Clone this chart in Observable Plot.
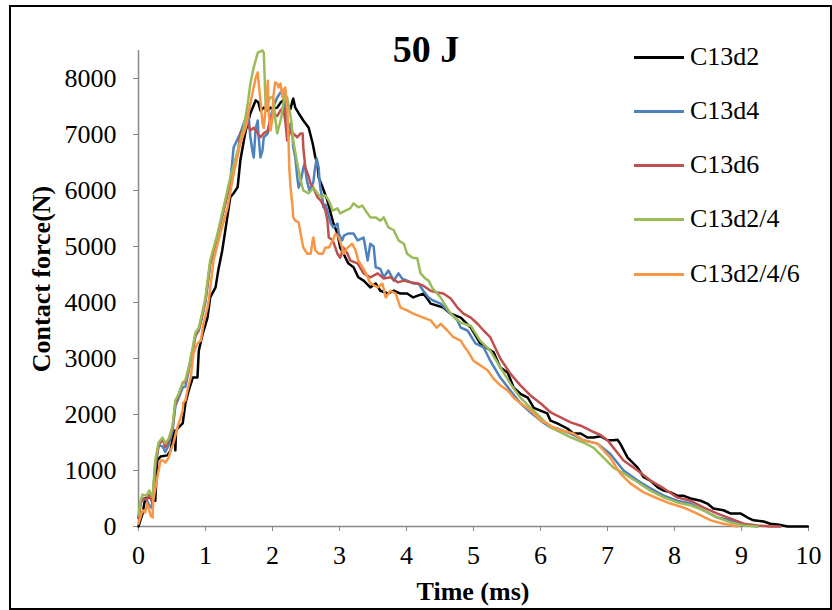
<!DOCTYPE html>
<html>
<head>
<meta charset="utf-8">
<script src="https://cdn.jsdelivr.net/npm/d3@7"></script>
<script src="https://cdn.jsdelivr.net/npm/@observablehq/plot@0.6"></script>
<style>
  html, body { margin: 0; padding: 0; background: #fff; }
  #wrap { position: relative; width: 832px; height: 610px; font-family: "Liberation Serif", "Times New Roman", serif; color: #000; }
  #wrap svg { position: absolute; left: 0; top: 0; }
  .frame { position: absolute; left: 9px; top: 5px; width: 819px; height: 601px; border: 2px solid #000; box-sizing: content-box; pointer-events: none; }
  .title { position: absolute; left: 426px; top: 62px; transform: translate(-50%, -80%); font-weight: bold; font-size: 38px; white-space: nowrap; }
  .ylab { position: absolute; left: 42px; top: 279px; transform: translate(-50%, -50%) rotate(-90deg); font-weight: bold; font-size: 26px; white-space: nowrap; }
  .xlab { position: absolute; left: 473px; top: 592px; transform: translate(-50%, -50%); font-weight: bold; font-size: 26px; white-space: nowrap; }
  .leg { position: absolute; left: 634px; display: flex; align-items: center; transform: translateY(-50%); font-size: 26px; white-space: nowrap; }
  .leg span.sw { display: inline-block; width: 50px; height: 3px; margin-right: 6px; }
</style>
</head>
<body>
<div id="wrap"></div>
<script>
// ---- data (time in ms, contact force in N) ----
const seriesNames = ["C13d2", "C13d4", "C13d6", "C13d2/4", "C13d2/4/6"];
const seriesColors = ["#000000", "#4F81BD", "#C0504D", "#9BBB59", "#F79646"];
const xTicks = [0, 1, 2, 3, 4, 5, 6, 7, 8, 9, 10];
const yTicks = [0, 1000, 2000, 3000, 4000, 5000, 6000, 7000, 8000];
const chartTitle = "50 J";
const xLabel = "Time (ms)";
const yLabel = "Contact force(N)";

const c13d2 = [[0,0],[0.06,230],[0.10,500],[0.18,520],[0.25,460],[0.28,1180],[0.33,1250],[0.43,1270],[0.48,1360],[0.51,1590],[0.54,1710],[0.55,1360],[0.56,1700],[0.58,1750],[0.66,1840],[0.70,2200],[0.75,2430],[0.81,2660],[0.88,2660],[0.90,3140],[0.96,3450],[1.03,3730],[1.07,4090],[1.15,4270],[1.19,4570],[1.25,4930],[1.31,5400],[1.37,5880],[1.42,5950],[1.48,6060],[1.52,6540],[1.60,7070],[1.67,7380],[1.75,7610],[1.79,7570],[1.82,7430],[1.87,7480],[1.93,7430],[1.97,7480],[2.01,7460],[2.07,7480],[2.12,7570],[2.16,7610],[2.22,7480],[2.27,7460],[2.30,7610],[2.31,7640],[2.34,7480],[2.39,7380],[2.46,7250],[2.54,7120],[2.60,6840],[2.64,6590],[2.67,6480],[2.69,6230],[2.75,6050],[2.82,5820],[2.87,5590],[2.91,5410],[2.97,5230],[3.01,4980],[3.06,4870],[3.13,4700],[3.21,4630],[3.28,4450],[3.36,4390],[3.46,4270],[3.54,4340],[3.61,4210],[3.72,4160],[3.81,4210],[3.91,4160],[4.01,4160],[4.10,4090],[4.25,4160],[4.31,4070],[4.36,3980],[4.55,3910],[4.66,3800],[4.81,3730],[4.96,3550],[5.10,3270],[5.21,3180],[5.30,3110],[5.40,2840],[5.51,2750],[5.60,2480],[5.70,2370],[5.81,2300],[5.90,2120],[6.00,2070],[6.10,2020],[6.15,1890],[6.25,1840],[6.40,1750],[6.49,1660],[6.60,1660],[6.70,1590],[6.79,1590],[6.90,1610],[7.00,1540],[7.09,1540],[7.15,1550],[7.19,1480],[7.30,1230],[7.45,1050],[7.54,880],[7.64,820],[7.75,700],[7.84,640],[7.94,610],[8.04,550],[8.13,550],[8.24,500],[8.39,460],[8.49,410],[8.58,320],[8.73,290],[8.84,230],[8.99,230],[9.09,160],[9.18,110],[9.33,90],[9.43,50],[9.54,36],[9.69,0],[9.99,0]];

const c13d4 = [[0,150],[0.03,420],[0.06,500],[0.12,480],[0.16,380],[0.20,330],[0.25,1050],[0.30,1450],[0.36,1430],[0.40,1330],[0.45,1450],[0.51,1720],[0.55,2150],[0.60,2300],[0.66,2480],[0.70,2500],[0.75,2780],[0.81,3150],[0.85,3400],[0.90,3500],[0.96,3800],[1.00,4020],[1.07,4680],[1.18,5200],[1.27,5650],[1.37,6150],[1.42,6770],[1.52,7020],[1.60,7300],[1.64,7380],[1.67,6950],[1.70,6710],[1.72,6590],[1.75,7120],[1.78,7250],[1.79,7000],[1.82,6590],[1.85,6710],[1.87,6950],[1.93,7020],[1.97,7300],[2.01,7480],[2.07,7660],[2.12,7750],[2.16,7790],[2.19,7480],[2.22,7200],[2.24,7070],[2.27,7200],[2.30,6950],[2.31,6770],[2.34,6590],[2.37,6230],[2.39,6050],[2.42,6150],[2.46,6410],[2.48,6480],[2.51,6200],[2.54,6050],[2.55,6000],[2.61,6150],[2.63,6360],[2.66,6570],[2.69,6400],[2.70,6200],[2.72,6000],[2.75,5820],[2.76,5700],[2.79,5750],[2.82,5640],[2.87,5410],[2.91,5340],[2.97,5410],[2.99,5230],[3.04,5110],[3.07,5200],[3.13,5230],[3.21,5230],[3.27,5110],[3.36,5160],[3.42,4750],[3.46,5050],[3.51,5000],[3.54,4630],[3.61,4600],[3.66,4450],[3.73,4570],[3.81,4390],[3.88,4520],[3.94,4420],[4.01,4390],[4.10,4340],[4.18,4340],[4.25,4210],[4.33,4090],[4.39,4040],[4.51,3980],[4.61,3860],[4.76,3680],[4.81,3550],[4.91,3500],[5.03,3270],[5.15,3200],[5.25,2960],[5.40,2660],[5.55,2430],[5.70,2200],[5.85,2040],[6.00,1890],[6.15,1770],[6.25,1750],[6.45,1660],[6.64,1540],[6.85,1480],[7.04,1300],[7.24,1000],[7.45,820],[7.64,680],[7.84,550],[8.04,460],[8.24,410],[8.43,290],[8.64,160],[8.84,110],[9.03,36],[9.24,0]];

const c13d6 = [[0,150],[0.03,400],[0.06,500],[0.12,480],[0.16,560],[0.21,420],[0.25,1100],[0.30,1450],[0.36,1560],[0.40,1420],[0.45,1530],[0.51,1780],[0.55,2200],[0.60,2350],[0.66,2560],[0.70,2590],[0.75,2830],[0.81,3150],[0.85,3420],[0.90,3520],[0.96,3830],[1.00,4050],[1.07,4700],[1.18,5200],[1.27,5650],[1.37,6150],[1.48,6650],[1.52,7020],[1.57,7120],[1.63,7200],[1.67,7070],[1.72,7120],[1.78,7020],[1.82,6950],[1.87,7020],[1.93,7070],[1.97,7300],[2.01,7380],[2.07,7330],[2.12,7430],[2.16,7480],[2.19,7250],[2.22,6890],[2.27,7070],[2.31,7020],[2.37,6950],[2.42,7020],[2.45,7020],[2.46,6770],[2.49,6410],[2.54,6250],[2.57,6120],[2.61,6050],[2.67,5880],[2.72,5820],[2.76,5730],[2.79,5640],[2.82,5460],[2.84,5160],[2.90,5110],[2.97,4870],[3.01,4800],[3.06,4980],[3.12,4870],[3.16,4750],[3.27,4700],[3.36,4520],[3.46,4450],[3.57,4520],[3.66,4430],[3.76,4450],[3.87,4360],[3.96,4390],[4.06,4360],[4.16,4340],[4.25,4300],[4.36,4210],[4.46,4180],[4.55,4160],[4.66,4070],[4.76,3910],[4.85,3800],[4.96,3730],[5.06,3620],[5.15,3500],[5.25,3380],[5.40,3000],[5.55,2730],[5.70,2520],[5.85,2340],[6.00,2200],[6.15,2040],[6.30,1950],[6.45,1860],[6.60,1800],[6.75,1710],[6.90,1630],[7.00,1540],[7.04,1480],[7.24,1180],[7.45,1000],[7.64,820],[7.84,680],[8.04,520],[8.24,460],[8.43,340],[8.64,230],[8.84,140],[9.03,50],[9.24,20],[9.43,0],[9.58,0]];

const c13d2_4 = [[0,200],[0.03,460],[0.06,570],[0.12,550],[0.16,640],[0.21,520],[0.25,1180],[0.30,1500],[0.36,1590],[0.40,1480],[0.45,1570],[0.51,1800],[0.55,2250],[0.60,2370],[0.66,2570],[0.70,2610],[0.75,2840],[0.81,3200],[0.85,3460],[0.90,3550],[0.96,3860],[1.00,4090],[1.07,4750],[1.18,5230],[1.27,5700],[1.37,6230],[1.48,6710],[1.57,7120],[1.63,7550],[1.67,7910],[1.72,8200],[1.78,8460],[1.85,8500],[1.87,8460],[1.90,7430],[1.96,7660],[2.01,7660],[2.04,7300],[2.07,7020],[2.13,7300],[2.18,7700],[2.22,7660],[2.28,7250],[2.31,6890],[2.37,6480],[2.42,6180],[2.46,6000],[2.54,5950],[2.61,6050],[2.67,5950],[2.72,5880],[2.79,5910],[2.84,5820],[2.90,5640],[2.97,5680],[3.01,5590],[3.09,5640],[3.16,5680],[3.21,5770],[3.28,5700],[3.34,5730],[3.39,5640],[3.46,5520],[3.54,5520],[3.61,5460],[3.66,5520],[3.73,5340],[3.81,5290],[3.88,5110],[3.96,5050],[4.01,4870],[4.09,4800],[4.16,4790],[4.21,4520],[4.28,4430],[4.33,4390],[4.39,4250],[4.46,4160],[4.52,4070],[4.60,3910],[4.66,3800],[4.81,3640],[4.96,3580],[5.10,3320],[5.25,3140],[5.40,2840],[5.55,2550],[5.70,2300],[5.85,2120],[6.00,1950],[6.15,1770],[6.30,1680],[6.45,1590],[6.64,1500],[6.79,1410],[6.94,1230],[7.09,1050],[7.24,950],[7.45,790],[7.64,640],[7.84,520],[8.04,430],[8.24,380],[8.43,290],[8.64,160],[8.84,70],[9.03,20],[9.24,0]];

const c13d2_4_6 = [[0,50],[0.06,290],[0.10,250],[0.13,410],[0.15,340],[0.18,200],[0.21,160],[0.22,460],[0.28,880],[0.33,1180],[0.37,1180],[0.40,1140],[0.45,1230],[0.48,1360],[0.52,1480],[0.58,1770],[0.63,1950],[0.66,2070],[0.67,2210],[0.70,2250],[0.73,2430],[0.78,2660],[0.82,3090],[0.88,3270],[0.93,3320],[0.97,3620],[1.03,3910],[1.05,4050],[1.12,4750],[1.22,5230],[1.33,5700],[1.42,6300],[1.52,6840],[1.60,7120],[1.64,7380],[1.70,7730],[1.75,8020],[1.78,8110],[1.79,7960],[1.82,7610],[1.85,7200],[1.87,7120],[1.90,7480],[1.93,7960],[1.94,7430],[1.97,7070],[2.00,7300],[2.01,7660],[2.04,7930],[2.07,7910],[2.09,7840],[2.12,7910],[2.15,7660],[2.16,7790],[2.19,7840],[2.22,7480],[2.24,6890],[2.25,6410],[2.27,6050],[2.30,5700],[2.31,5520],[2.34,5460],[2.39,5430],[2.42,5230],[2.46,4980],[2.52,4870],[2.57,4870],[2.60,5110],[2.61,5160],[2.64,4930],[2.69,4870],[2.75,4870],[2.79,4980],[2.84,4980],[2.90,5110],[2.94,5230],[2.99,5160],[3.04,4980],[3.06,4870],[3.12,4980],[3.19,5050],[3.24,4930],[3.28,4750],[3.36,4600],[3.42,4450],[3.46,4340],[3.57,4270],[3.64,4340],[3.69,4090],[3.76,4210],[3.84,4160],[3.91,3910],[4.01,3860],[4.10,3800],[4.25,3730],[4.36,3680],[4.45,3550],[4.51,3620],[4.61,3500],[4.70,3380],[4.81,3320],[4.87,3200],[4.91,3140],[5.00,2960],[5.10,2880],[5.21,2790],[5.30,2640],[5.40,2520],[5.51,2430],[5.60,2300],[5.70,2200],[5.81,2110],[5.90,2020],[6.00,1890],[6.10,1840],[6.19,1770],[6.34,1710],[6.49,1660],[6.64,1540],[6.85,1480],[7.04,1230],[7.19,950],[7.34,770],[7.54,610],[7.75,500],[7.94,410],[8.13,340],[8.34,230],[8.54,110],[8.73,50],[8.94,0]];

const seriesData = [c13d2, c13d4, c13d6, c13d2_4, c13d2_4_6];

// ---- build table ----
const rows = [];
seriesNames.forEach((name, i) => {
  seriesData[i].forEach(([t, f]) => rows.push({name, t, f}));
});

const chart = Plot.plot({
  width: 832,
  height: 610,
  marginLeft: 138,
  marginRight: 24,
  marginTop: 50,
  marginBottom: 84,
  style: {fontFamily: "'Liberation Serif', 'Times New Roman', serif", fontSize: "26px", color: "#000", background: "transparent"},
  x: {domain: [0, 10]},
  y: {domain: [0, 8500]},
  color: {domain: seriesNames, range: seriesColors},
  marks: [
    Plot.axisX({ticks: xTicks, tickSize: 5, tickPadding: 14, stroke: "#888", fill: "#000", label: null, tickFormat: d => String(d)}),
    Plot.axisY({ticks: yTicks, tickSize: 5, tickPadding: 17, stroke: "#888", fill: "#000", label: null, tickFormat: d => String(d)}),
    Plot.ruleX([0], {stroke: "#888", strokeWidth: 1.5}),
    Plot.ruleY([0], {stroke: "#888", strokeWidth: 1.5}),
    Plot.line(rows, {x: "t", y: "f", z: "name", stroke: "name", strokeWidth: 2.5, strokeLinejoin: "round"})
  ]
});

const wrap = document.getElementById("wrap");
wrap.appendChild(chart);

function addDiv(cls, text, styleObj) {
  const d = document.createElement("div");
  d.className = cls;
  if (text != null) d.textContent = text;
  if (styleObj) Object.assign(d.style, styleObj);
  wrap.appendChild(d);
  return d;
}
addDiv("frame");
addDiv("title", chartTitle);
addDiv("ylab", yLabel);
addDiv("xlab", xLabel);

const legendTops = [57, 111, 165, 219, 274];
seriesNames.forEach((name, i) => {
  const d = addDiv("leg", null, {top: legendTops[i] + "px"});
  const sw = document.createElement("span");
  sw.className = "sw";
  sw.style.background = seriesColors[i];
  d.appendChild(sw);
  const tx = document.createElement("span");
  tx.textContent = name;
  d.appendChild(tx);
});
</script>
</body>
</html>
